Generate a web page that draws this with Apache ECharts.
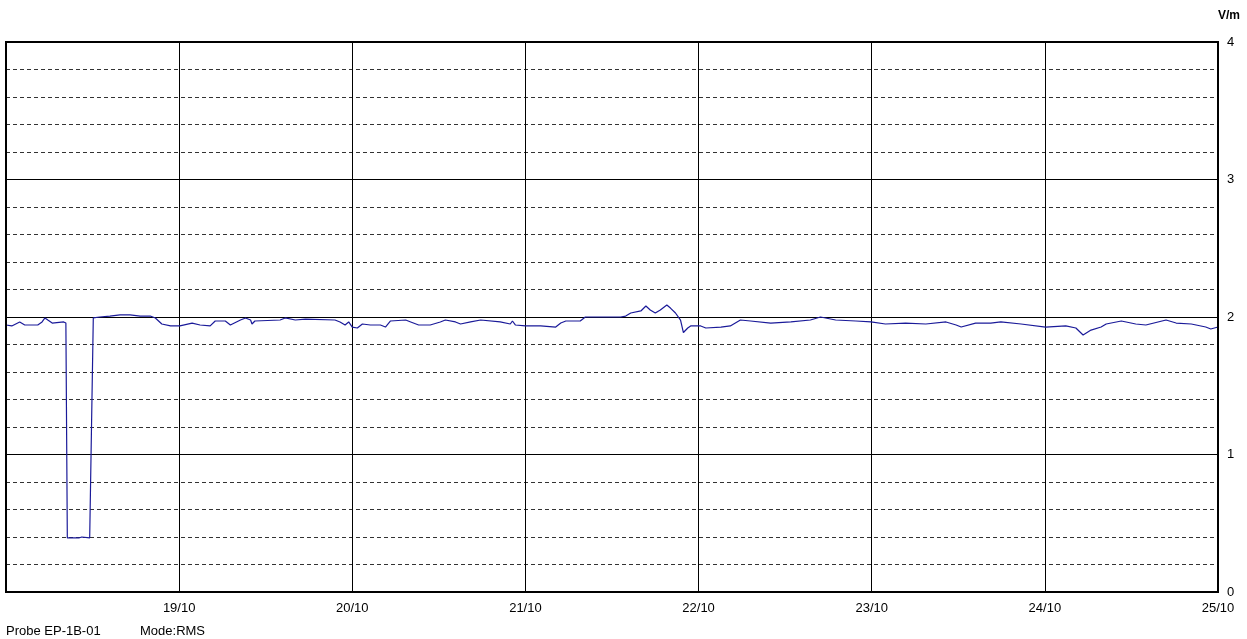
<!DOCTYPE html>
<html>
<head>
<meta charset="utf-8">
<script src="https://cdn.jsdelivr.net/npm/echarts@6/dist/echarts.min.js"></script>
<style>
html,body{margin:0;padding:0;background:#fff;}
#chart{width:1247px;height:639px;}
</style>
</head>
<body>
<div id="chart"></div>
<script>
// hours since 18/10 00:00
const hours = [0,0.8,1.9,2.6,4.4,5.0,5.4,5.8,6.4,8.0,8.3,8.5,9.6,9.8,10.1,10.5,11.6,11.8,12.1,13.0,14.4,15.8,17.2,18.6,20.0,20.7,21.6,22.8,24.1,25.8,26.9,28.3,29.0,30.4,31.1,32.5,33.2,33.9,34.1,34.5,38.0,38.7,40.1,41.5,45.6,46.3,47.0,47.5,48.0,48.7,49.4,50.5,51.9,52.6,53.3,55.4,56.1,57.2,58.8,60.2,60.9,62.3,63.0,64.4,65.8,68.5,69.9,70.2,70.6,72.0,74.1,76.2,76.9,77.6,79.6,80.3,85.2,85.9,86.6,88.0,88.7,89.3,90.0,90.7,91.6,92.1,92.8,93.5,93.9,94.5,94.9,96.3,97.0,99.1,100.4,101.8,103.2,106.0,108.8,111.5,112.9,115.0,117.8,119.9,121.9,124.7,127.5,130.3,131.7,132.4,134.4,136.5,137.9,140.7,144.1,146.9,148.3,149.3,150.4,151.8,152.5,154.6,156.6,158.0,160.8,162.2,164.3,166.3,167.0,168.0];
const values = [1.942,1.935,1.964,1.942,1.942,1.964,1.993,1.978,1.956,1.964,1.956,0.393,0.393,0.407,0.393,0.400,0.393,0.385,1.993,2.000,2.007,2.015,2.015,2.007,2.007,1.993,1.949,1.935,1.935,1.956,1.942,1.935,1.971,1.971,1.942,1.978,1.993,1.978,1.949,1.971,1.978,1.993,1.978,1.985,1.978,1.964,1.942,1.964,1.927,1.920,1.949,1.942,1.942,1.927,1.971,1.978,1.964,1.942,1.942,1.964,1.978,1.964,1.949,1.964,1.978,1.964,1.949,1.971,1.942,1.935,1.935,1.927,1.956,1.971,1.971,2.000,2.000,2.007,2.029,2.044,2.080,2.051,2.029,2.051,2.087,2.065,2.029,1.978,1.887,1.920,1.935,1.935,1.920,1.927,1.935,1.978,1.971,1.956,1.964,1.978,2.000,1.978,1.971,1.964,1.949,1.956,1.949,1.964,1.942,1.927,1.956,1.956,1.964,1.949,1.927,1.935,1.920,1.869,1.905,1.927,1.949,1.971,1.949,1.942,1.978,1.956,1.949,1.927,1.913,1.927];
const dayLabels = ['18/10','19/10','20/10','21/10','22/10','23/10','24/10','25/10'];
const yTicks = [0,1,2,3,4];

const data = hours.map((h, i) => [h, values[i]]);
const chart = echarts.init(document.getElementById('chart'), null, {renderer: 'canvas'});
const font = 'Liberation Sans, Arial, sans-serif';
chart.setOption({
  animation: false,
  backgroundColor: '#fff',
  grid: {left: 6, right: 29, top: 42, bottom: 47, show: true, borderColor: '#000', borderWidth: 2, backgroundColor: 'transparent', z: 5},
  xAxis: {
    type: 'value', min: 0, max: 168, interval: 24,
    axisLine: {show: false}, axisTick: {show: false},
    axisLabel: {
      margin: 10, color: '#000', fontSize: 13, fontFamily: font, showMaxLabel: true, showMinLabel: false,
      formatter: v => (v === 0 ? '' : dayLabels[Math.round(v / 24)])
    },
    splitLine: {show: true, lineStyle: {color: '#000', width: 1, type: 'solid'}}
  },
  yAxis: {
    type: 'value', position: 'right', min: yTicks[0], max: yTicks[yTicks.length - 1], interval: 1,
    axisLine: {show: false}, axisTick: {show: false},
    axisLabel: {margin: 9, color: '#000', fontSize: 13, fontFamily: font, formatter: v => String(v)},
    splitLine: {show: true, lineStyle: {color: '#000', width: 1, type: 'solid'}},
    minorTick: {show: false, splitNumber: 5},
    minorSplitLine: {show: true, lineStyle: {color: '#333', width: 1, type: [4, 3]}}
  },
  series: [{
    type: 'line', data: data, showSymbol: false, symbol: 'none',
    lineStyle: {color: '#1a1a99', width: 1.2}, z: 3
  }],
  graphic: [
    {type: 'text', left: 1218, top: 10, style: {text: 'V/m', font: 'bold 12px ' + font, fill: '#000'}},
    {type: 'text', left: 6, top: 625, style: {text: 'Probe EP-1B-01', font: '13px ' + font, fill: '#000'}},
    {type: 'text', left: 140, top: 625, style: {text: 'Mode:RMS', font: '13px ' + font, fill: '#000'}}
  ]
});
</script>
</body>
</html>
